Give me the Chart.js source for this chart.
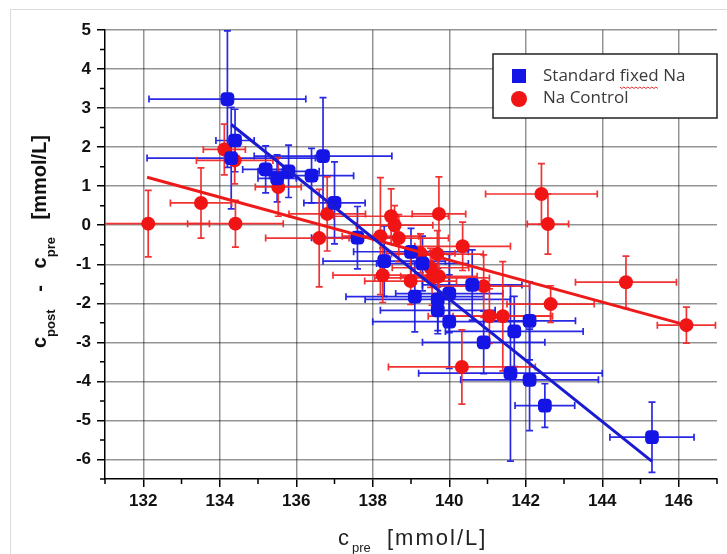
<!DOCTYPE html>
<html>
<head>
<meta charset="utf-8">
<script src="https://cdn.jsdelivr.net/npm/chart.js@4.4.1/dist/chart.umd.min.js"></script>
<style>
  html, body { margin: 0; padding: 0; background: #fff; }
  #wrap { width: 727px; height: 554px; }
</style>
</head>
<body>
<div id="wrap"><canvas id="myChart"></canvas></div>
<script>
// Standard fixed Na (blue squares)
const stdX    = [134.2, 134.4, 134.3, 135.2, 135.5, 135.8, 136.4, 136.7, 137.0, 137.6, 138.3, 139.0, 139.3, 139.1, 139.7, 140.0, 139.7, 140.0, 140.6, 140.9, 141.7, 142.1, 141.6, 142.1, 142.5, 145.3];
const stdY    = [3.23, 2.17, 1.72, 1.43, 1.2, 1.38, 1.27, 1.77, 0.57, -0.32, -0.92, -0.68, -0.98, -1.83, -1.9, -1.75, -2.18, -2.47, -1.53, -3.0, -2.72, -2.45, -3.79, -3.96, -4.62, -5.43];
const stdXErr = [2.05, 0.5, 2.2, 0.6, 0.5, 0.8, 1.1, 1.8, 0.8, 1.2, 1.6, 1.5, 1.2, 1.8, 1.9, 1.4, 1.5, 2.0, 1.3, 1.6, 1.8, 1.2, 2.4, 1.8, 0.78, 1.1];
const stdYErr = [1.75, 0.8, 1.3, 0.6, 0.6, 0.67, 0.7, 1.5, 1.05, 0.8, 0.9, 0.6, 0.7, 0.9, 0.8, 1.0, 0.6, 1.2, 0.9, 0.8, 0.9, 1.0, 2.25, 1.3, 0.56, 0.9];

// Na Control (red circles)
const ctlX    = [132.13, 133.51, 134.41, 134.12, 134.39, 135.53, 136.81, 136.6, 138.2, 138.48, 138.57, 139.73, 138.68, 140.35, 138.26, 138.99, 139.55, 139.73, 139.51, 139.25, 139.69, 140.9, 141.05, 141.4, 140.33, 142.41, 142.58, 142.65, 144.62, 146.2];
const ctlY    = [0.04, 0.57, 0.04, 1.94, 1.66, 0.98, 0.29, -0.33, -0.28, 0.23, 0.0, 0.29, -0.33, -0.54, -1.28, -1.43, -1.35, -1.31, -1.09, -0.72, -0.74, -1.56, -2.33, -2.33, -3.63, 0.8, 0.03, -2.02, -1.46, -2.56];
const ctlXErr = [1.6, 0.8, 1.25, 0.55, 1.0, 0.6, 1.0, 1.4, 1.0, 1.5, 1.0, 0.7, 1.3, 1.25, 1.3, 1.2, 1.5, 1.0, 1.0, 0.9, 1.2, 1.2, 1.6, 1.3, 1.92, 1.46, 0.54, 1.14, 1.32, 0.76];
const ctlYErr = [0.85, 0.9, 0.6, 0.65, 0.6, 0.75, 0.95, 1.25, 1.5, 0.7, 0.5, 0.95, 0.6, 0.62, 0.7, 0.6, 0.7, 0.6, 0.5, 0.5, 0.6, 0.8, 0.7, 1.4, 0.95, 0.78, 0.77, 0.47, 0.67, 0.46];

// linear fits (end points)
const stdFitX = [134.3, 145.3];
const stdFitY = [2.58, -6.05];
const ctlFitX = [132.1, 146.2];
const ctlFitY = [1.23, -2.56];

// axes
const xTicks = [132, 134, 136, 138, 140, 142, 144, 146];
const yTicks = [-6, -5, -4, -3, -2, -1, 0, 1, 2, 3, 4, 5];
const seriesLabels = ['Standard fixed Na', 'Na Control'];

const BLUE = '#1414e6';
const RED = '#f01414';

function toPoints(xs, ys) {
    return xs.map((v, i) => ({ x: v, y: ys[i] }));
}

const errorBars = {
    id: 'errorBars',
    beforeDatasetsDraw(chart) {
        const { ctx, chartArea, scales: { x, y } } = chart;
        ctx.save();
        ctx.beginPath();
        ctx.rect(chartArea.left, chartArea.top - 2, chartArea.width, chartArea.height + 2);
        ctx.clip();
        ctx.lineWidth = 1.7;
        chart.data.datasets.forEach((ds) => {
            if (!ds.xErr) return;
            ctx.strokeStyle = ds.errColor;
            ds.data.forEach((p, i) => {
                const px = x.getPixelForValue(p.x);
                const py = y.getPixelForValue(p.y);
                const x0 = x.getPixelForValue(p.x - ds.xErr[i]);
                const x1 = x.getPixelForValue(p.x + ds.xErr[i]);
                const y0 = y.getPixelForValue(p.y - ds.yErr[i]);
                const y1 = y.getPixelForValue(p.y + ds.yErr[i]);
                const c = 3.5;
                ctx.beginPath();
                ctx.moveTo(x0, py); ctx.lineTo(x1, py);
                ctx.moveTo(x0, py - c); ctx.lineTo(x0, py + c);
                ctx.moveTo(x1, py - c); ctx.lineTo(x1, py + c);
                ctx.moveTo(px, y0); ctx.lineTo(px, y1);
                ctx.moveTo(px - c, y0); ctx.lineTo(px + c, y0);
                ctx.moveTo(px - c, y1); ctx.lineTo(px + c, y1);
                ctx.stroke();
            });
        });
        ctx.restore();
    }
};

const decorations = {
    id: 'decorations',
    beforeDraw(chart) {
        const ctx = chart.ctx;
        ctx.save();
        ctx.strokeStyle = '#dcdcdc';
        ctx.lineWidth = 1;
        ctx.strokeRect(10.5, 9.5, 800, 800);
        ctx.restore();
    },
    afterDraw(chart) {
        const { ctx, chartArea, scales: { x, y } } = chart;
        ctx.save();

        // minor ticks
        ctx.strokeStyle = '#000';
        ctx.lineWidth = 1.5;
        ctx.beginPath();
        for (let v = Math.ceil(x.min); v <= x.max; v++) {
            if (xTicks.includes(v)) continue;
            const px = x.getPixelForValue(v);
            ctx.moveTo(px, chartArea.bottom);
            ctx.lineTo(px, chartArea.bottom + 5);
        }
        for (let v = y.min; v <= y.max; v += 0.5) {
            if (yTicks.includes(v)) continue;
            const py = y.getPixelForValue(v);
            ctx.moveTo(chartArea.left, py);
            ctx.lineTo(chartArea.left - 5, py);
        }
        ctx.stroke();

        // x axis title
        ctx.fillStyle = '#222';
        ctx.textBaseline = 'alphabetic';
        ctx.textAlign = 'left';
        ctx.font = '22px "Liberation Sans", Arial, sans-serif';
        ctx.fillText('c', 338, 545);
        ctx.font = '13px "Liberation Sans", Arial, sans-serif';
        ctx.fillText('pre', 352, 552);
        ctx.font = '22px "Liberation Sans", Arial, sans-serif';
        ctx.letterSpacing = '2px';
        ctx.fillText('[mmol/L]', 387, 545);
        ctx.letterSpacing = '0px';

        // y axis title
        ctx.save();
        ctx.translate(46, 348);
        ctx.rotate(-Math.PI / 2);
        const main = 'bold 20px "Liberation Sans", Arial, sans-serif';
        const sub = 'bold 13px "Liberation Sans", Arial, sans-serif';
        const parts = [['c', main, 0], ['post', sub, 9], ['   -   c', main, 0], ['pre', sub, 9], ['   [mmol/L]', main, 0]];
        let cx = 0;
        ctx.fillStyle = '#111';
        parts.forEach(([t, f, dy]) => {
            ctx.font = f;
            ctx.fillText(t, cx, dy);
            cx += ctx.measureText(t).width + (dy ? 1 : 0);
        });
        ctx.restore();

        // legend box
        const bw = 224, bh = 64;
        const bl = chartArea.right - bw, bt = 54;
        ctx.fillStyle = '#fff';
        ctx.fillRect(bl, bt, bw, bh);
        ctx.strokeStyle = '#222';
        ctx.lineWidth = 1.5;
        ctx.strokeRect(bl, bt, bw, bh);
        ctx.fillStyle = BLUE;
        ctx.fillRect(bl + 19, bt + 15, 14, 14);
        ctx.fillStyle = RED;
        ctx.beginPath();
        ctx.arc(bl + 26, bt + 45, 8, 0, Math.PI * 2);
        ctx.fill();
        ctx.fillStyle = '#3a3a3a';
        ctx.font = '17px "Open Sans", sans-serif';
        ctx.textBaseline = 'middle';
        const tx = bl + 50;
        ctx.fillText(seriesLabels[0], tx, bt + 22);
        ctx.fillText(seriesLabels[1], tx, bt + 44);

        // spell-check squiggle under "fixed"
        const pre = ctx.measureText('Standard ').width;
        const w = ctx.measureText('fixed').width;
        ctx.strokeStyle = '#e03030';
        ctx.lineWidth = 1;
        ctx.beginPath();
        for (let k = 0; k <= w; k += 2) {
            const yy = bt + 33 + ((k / 2) % 2 ? 1.5 : 0);
            if (k === 0) ctx.moveTo(tx + pre + k, yy); else ctx.lineTo(tx + pre + k, yy);
        }
        ctx.stroke();

        ctx.restore();
    }
};

const tickFont = { family: '"Liberation Sans", Arial, sans-serif', size: 17, weight: 'bold' };

new Chart(document.getElementById('myChart').getContext('2d'), {
    type: 'scatter',
    data: {
        datasets: [
            {
                type: 'line',
                data: toPoints(stdFitX, stdFitY),
                borderColor: '#1a1ad2',
                borderWidth: 3,
                pointRadius: 0,
                fill: false,
                order: 0
            },
            {
                type: 'line',
                data: toPoints(ctlFitX, ctlFitY),
                borderColor: '#ee1a1a',
                borderWidth: 3,
                pointRadius: 0,
                fill: false,
                order: 0
            },
            {
                label: seriesLabels[0],
                data: toPoints(stdX, stdY),
                xErr: stdXErr,
                yErr: stdYErr,
                errColor: 'rgba(30,30,225,0.95)',
                backgroundColor: BLUE,
                borderColor: BLUE,
                pointStyle: 'rectRounded',
                pointRadius: 8,
                pointBorderWidth: 0,
                order: 1
            },
            {
                label: seriesLabels[1],
                data: toPoints(ctlX, ctlY),
                xErr: ctlXErr,
                yErr: ctlYErr,
                errColor: 'rgba(240,40,40,0.95)',
                backgroundColor: RED,
                borderColor: RED,
                pointStyle: 'circle',
                pointRadius: 7,
                pointBorderWidth: 0,
                order: 2
            }
        ]
    },
    options: {
        responsive: true,
        maintainAspectRatio: false,
        animation: false,
        layout: { padding: { top: 30, right: 10, left: 0, bottom: 0 } },
        plugins: {
            legend: { display: false },
            tooltip: { enabled: false }
        },
        scales: {
            x: {
                type: 'linear',
                min: 131,
                max: 147,
                afterBuildTicks: (scale) => { scale.ticks = xTicks.map((v) => ({ value: v })); },
                afterFit: (scale) => { scale.height = 75; },
                border: { color: '#000', width: 1.5 },
                grid: { color: 'rgba(0,0,0,0.42)', lineWidth: 1.5, tickColor: '#000', tickLength: 8 },
                ticks: { color: '#111', font: tickFont, padding: 4, maxRotation: 0 }
            },
            y: {
                type: 'linear',
                min: -6.5,
                max: 5,
                afterBuildTicks: (scale) => { scale.ticks = yTicks.map((v) => ({ value: v })); },
                afterFit: (scale) => { scale.width = 105; },
                border: { color: '#000', width: 1.5 },
                grid: { color: 'rgba(0,0,0,0.42)', lineWidth: 1.5, tickColor: '#000', tickLength: 8 },
                ticks: { color: '#111', font: tickFont, padding: 6 }
            }
        }
    },
    plugins: [errorBars, decorations]
});
</script>
</body>
</html>
